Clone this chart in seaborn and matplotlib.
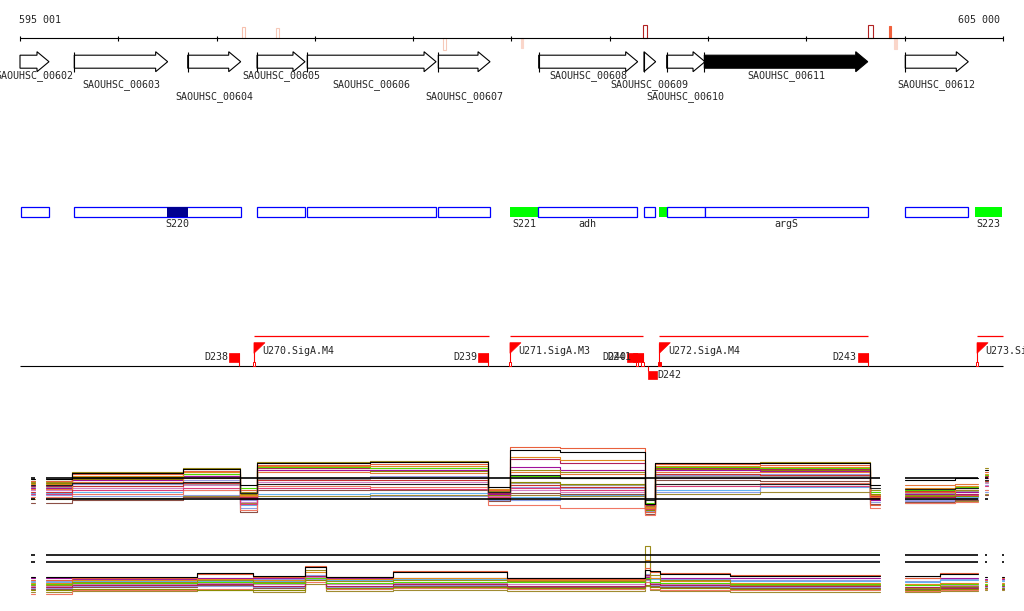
import numpy as np
import pandas as pd
import matplotlib
matplotlib.use('Agg')
import matplotlib.pyplot as plt
from matplotlib.patches import Polygon, Rectangle
import seaborn as sns

sns.set_style('white')
plt.rcParams['font.family'] = ['DejaVu Sans Mono', 'DejaVu Sans']
FS = 7.2

VIEW_START, VIEW_END = 595001, 605000

# genes (top track)
gene_names = ['SAOUHSC_00602', 'SAOUHSC_00603', 'SAOUHSC_00604', 'SAOUHSC_00605',
              'SAOUHSC_00606', 'SAOUHSC_00607', 'SAOUHSC_00608', 'SAOUHSC_00609',
              'SAOUHSC_00610', 'SAOUHSC_00611', 'SAOUHSC_00612']
gene_start = [594990, 595553, 596707, 597412, 597923, 599256, 600277, 601348, 601579, 601962, 604006]
gene_end = [595296, 596503, 597246, 597900, 599233, 599782, 601284, 601467, 601969, 603624, 604647]
gene_row = [0, 1, 2, 0, 1, 2, 0, 1, 2, 0, 1]
selected_gene = 'SAOUHSC_00611'

# small peaks on the scale bar
mark_start = [597262, 597605, 599307, 600094, 601335, 603627, 603837, 603891]
mark_end = [597290, 597632, 599331, 600114, 601382, 603681, 603857, 603925]
mark_strand = ['+', '+', '-', '-', '+', '+', '+', '-']
mark_score = [11, 10, 12, 10, 13, 13, 12, 11]
mark_face = ['white', 'white', 'white', '#fad6ca', 'white', 'white', '#f0603c', '#fad6ca']
mark_edge = ['#f6c0ae', '#f6c9b9', '#f6c9b9', '#fad6ca', '#b22222', '#b22222', '#f0603c', '#fad6ca']

# feature boxes
feat_start = [595008, 595553, 596496, 597415, 597923, 599256, 599985, 600273, 601348, 601498,
              601582, 601966, 604006, 604712]
feat_end = [595293, 597246, 596710, 597897, 599229, 599779, 600273, 601280, 601463, 601582,
            601966, 603624, 604647, 604993]
feat_kind = ['cds', 'cds', 'hit', 'cds', 'cds', 'cds', 'sig', 'cds', 'cds', 'sig',
             'cds', 'cds', 'cds', 'sig']
feat_label = ['', '', 'S220', '', '', '', 'S221', 'adh', '', '', '', 'argS', '', 'S223']

# regulation signals
sig_names = ['D238', 'U270.SigA.M4', 'D239', 'U271.SigA.M3', 'D240', 'D241', 'D242',
             'U272.SigA.M4', 'D243', 'U273.SigA.M4']
sig_pos = [597232, 597381, 599765, 599985, 601277, 601335, 601392, 601504, 603624, 604736]
sig_kind = ['D', 'U', 'D', 'U', 'D', 'D', 'Dr', 'U', 'D', 'U']
sig_to = [None, 599771, None, 601335, None, None, None, 603624, None, 605000]
sig_mark = [None, 'open', None, 'open', 'open', 'open', None, 'solid', None, 'open']

# expression track 1 (segments in bp, levels per condition)
expr1_seg_start = [595270, 595530, 596660, 597240, 597410, 598560, 599760, 599985, 600490,
                   601360, 601460, 602530, 603650, 604000, 604510, 604820]
expr1_seg_end = [595530, 596660, 597240, 597410, 598560, 599760, 599985, 600490, 601360,
                 601460, 602530, 603650, 603750, 604510, 604745, 604850]
expr1_ref = [10.2, 8.1]
expr1 = {
    'c10': [8.7, 8.8, 9.0, 7.5, 8.6, 8.7, 8.1, 8.3, 8.5, 6.8, 9.0, 9.3, 8.0, 8.1, 8.3, 9.0],
    'c11': [8.5, 8.4, 8.5, 7.2, 8.2, 8.4, 8.0, 8.0, 8.2, 6.9, 8.8, 9.6, 7.8, 7.9, 8.1, 8.8],
    'c09': [9.0, 9.6, 10.0, 8.0, 10.2, 10.4, 8.3, 9.3, 9.2, 7.1, 10.5, 10.6, 8.3, 8.0, 8.2, 9.5],
    'c16': [8.1, 8.2, 8.4, 7.7, 8.4, 8.5, 8.2, 8.5, 8.4, 7.4, 8.6, 8.8, 8.1, 7.7, 7.9, 8.6],
    'c13': [7.7, 8.0, 8.3, 6.8, 9.0, 9.0, 7.9, 8.7, 8.6, 6.6, 10.0, 9.9, 7.6, 7.8, 8.0, 8.5],
    'c14': [8.3, 8.6, 9.0, 7.0, 9.4, 9.3, 7.5, 7.5, 7.2, 6.5, 9.6, 9.7, 7.2, 7.7, 7.8, 9.0],
    'c12': [9.0, 9.2, 9.5, 7.8, 9.8, 9.8, 8.4, 9.0, 8.8, 7.2, 10.2, 10.2, 8.2, 8.8, 8.8, 9.7],
    'c19': [8.6, 9.0, 9.2, 7.6, 9.2, 9.1, 8.3, 9.2, 9.0, 7.1, 9.4, 9.4, 8.1, 8.3, 8.5, 9.4],
    'c18': [9.3, 9.4, 9.6, 8.4, 10.1, 10.2, 8.6, 9.7, 9.5, 7.3, 10.4, 10.4, 8.5, 8.7, 8.9, 9.8],
    'c15': [8.8, 9.4, 9.7, 8.2, 10.0, 10.0, 8.5, 9.5, 9.3, 7.0, 10.6, 10.5, 8.4, 8.9, 9.0, 9.9],
    'c08': [9.7, 10.1, 10.4, 8.6, 11.0, 10.9, 8.5, 9.8, 9.6, 7.0, 11.1, 11.0, 8.6, 8.4, 8.4, 10.0],
    'c06': [9.2, 10.0, 10.4, 8.1, 11.0, 11.0, 8.6, 11.3, 11.0, 7.3, 11.0, 10.9, 8.0, 8.6, 8.8, 10.2],
    'c05': [9.4, 10.2, 10.6, 8.3, 11.2, 11.2, 8.7, 12.1, 11.7, 7.5, 11.2, 11.1, 8.2, 8.3, 8.6, 10.4],
    'c20': [9.1, 9.8, 10.2, 8.4, 10.8, 10.7, 8.8, 10.8, 10.6, 7.3, 10.8, 10.8, 8.3, 9.5, 9.6, 10.3],
    'c07': [9.9, 10.3, 10.6, 9.2, 11.3, 11.2, 9.0, 10.4, 10.2, 7.7, 11.3, 11.2, 8.8, 9.0, 9.3, 10.5],
    'c04': [9.6, 10.4, 10.8, 8.5, 11.4, 11.4, 9.1, 12.3, 12.0, 7.2, 11.4, 11.3, 8.5, 9.2, 9.4, 10.6],
    'c03': [9.8, 10.8, 11.2, 8.8, 11.8, 11.9, 8.9, 11.0, 10.8, 7.4, 11.7, 11.8, 9.0, 8.5, 9.0, 11.2],
    'c02': [9.9, 10.6, 10.9, 9.0, 11.5, 11.6, 9.0, 13.3, 13.2, 6.8, 11.6, 11.5, 7.5, 8.8, 9.2, 10.8],
    'c17': [9.5, 9.7, 9.8, 8.7, 9.6, 9.6, 8.8, 10.5, 10.2, 8.0, 9.6, 9.6, 9.2, 9.1, 9.2, 10.0],
    'c01': [10.1, 10.7, 11.1, 9.5, 11.7, 11.8, 9.3, 13.0, 12.8, 7.6, 11.7, 11.7, 9.5, 10.0, 10.2, 11.0],
}

# expression track 2
expr2_seg_start = [595265, 595530, 596800, 597370, 597900, 598115, 598795, 599955, 601358,
                   601410, 601510, 602225, 604003, 604360, 604817, 604990]
expr2_seg_end = [595530, 596800, 597370, 597900, 598115, 598795, 599955, 601358, 601410,
                 601510, 602225, 603750, 604360, 604746, 604837, 605010]
expr2_ref = [10.5, 9.8]
expr2 = {
    'c06': [8.2, 8.1, 8.2, 8.2, 8.3, 8.2, 8.2, 8.2, 8.3, 8.2, 8.2, 8.2, 8.2, 8.2, 8.1, 8.1],
    'c11': [7.9, 8.0, 8.0, 8.1, 8.5, 8.1, 8.1, 8.1, 8.6, 8.1, 8.1, 8.0, 7.9, 8.1, 8.0, 8.0],
    'c10': [7.8, 7.9, 7.9, 7.9, 8.4, 8.0, 8.1, 8.0, 8.5, 8.1, 8.0, 7.9, 7.8, 8.0, 7.9, 7.9],
    'c16': [6.8, 6.9, 7.0, 6.8, 7.6, 6.9, 7.0, 6.9, 7.4, 7.0, 6.9, 6.8, 6.8, 6.9, 7.0, 7.0],
    'c14': [6.6, 7.0, 7.1, 7.0, 7.8, 7.1, 7.2, 7.1, 7.8, 7.1, 7.0, 7.0, 6.9, 7.0, 7.1, 7.1],
    'c13': [7.1, 7.3, 7.5, 7.2, 8.2, 7.2, 7.4, 7.3, 8.1, 7.4, 7.3, 7.2, 7.1, 7.3, 7.2, 7.1],
    'c09': [7.2, 7.4, 7.4, 7.3, 8.1, 7.3, 7.5, 7.4, 8.0, 7.5, 7.4, 7.3, 7.2, 7.4, 7.3, 7.3],
    'c08': [7.0, 7.1, 7.0, 7.0, 8.0, 7.2, 7.3, 7.2, 7.5, 7.3, 7.2, 7.1, 7.0, 7.1, 7.2, 7.2],
    'c12': [7.4, 7.6, 7.7, 7.6, 8.3, 7.6, 7.7, 7.6, 8.4, 7.7, 7.6, 7.5, 7.5, 7.5, 7.5, 7.5],
    'c05': [7.3, 7.5, 7.6, 7.4, 8.4, 7.4, 7.6, 7.4, 8.5, 7.6, 7.5, 7.4, 7.3, 7.2, 7.4, 7.4],
    'c07': [7.6, 7.7, 7.8, 7.7, 8.2, 7.7, 7.8, 7.8, 8.2, 7.8, 7.7, 7.6, 7.5, 7.6, 7.6, 7.5],
    'c04': [7.7, 8.0, 8.1, 8.0, 8.8, 8.1, 8.2, 8.0, 10.0, 8.2, 7.9, 7.7, 7.6, 7.7, 7.8, 7.7],
    'c03': [7.5, 7.8, 8.0, 7.8, 9.0, 7.9, 8.0, 7.9, 11.4, 8.5, 8.0, 7.5, 7.2, 7.4, 7.5, 7.6],
    'c02': [8.0, 8.2, 8.6, 8.3, 9.4, 8.3, 8.9, 8.1, 9.2, 8.8, 8.7, 8.5, 8.2, 8.7, 8.0, 8.2],
    'c01': [8.3, 8.3, 8.7, 8.4, 9.3, 8.3, 8.8, 8.2, 9.0, 8.9, 8.6, 8.4, 8.4, 8.6, 8.3, 8.3],
}

colors = {
    'c01': '#000000', 'c02': '#e8603c', 'c03': '#9c8c1c', 'c04': '#e08a1e', 'c05': '#b0205a',
    'c06': '#a0109a', 'c07': '#50dc00', 'c08': '#8c8c00', 'c09': '#9a9ae0', 'c10': '#64b4f0',
    'c11': '#8ca0e6', 'c12': '#d282c8', 'c13': '#8c5046', 'c14': '#f07864', 'c15': '#c83232',
    'c16': '#a08c32', 'c17': '#222222', 'c18': '#a0a0a0', 'c19': '#dc3c78', 'c20': '#e6783c',
}

# ---- layout (pixel rows of the 1024 x 611 canvas)
W, H = 1024, 611
LEFT_PX, RIGHT_PX = 20, 1003
px = (VIEW_END - VIEW_START) / (RIGHT_PX - LEFT_PX)   # bp per pixel
xlim = (VIEW_START - LEFT_PX * px, VIEW_START + (W - LEFT_PX) * px)
KEY = (VIEW_START + 11 * px, VIEW_START + 15 * px)

fig = plt.figure(figsize=(W / 100, H / 100), dpi=100)
ax = fig.add_axes([0, 0, 1, 1])
ax.set_xlim(*xlim)
ax.set_ylim(H, 0)
ax.axis('off')

# scale bar
SCALE_Y = 38.3
ax.hlines(SCALE_Y, VIEW_START, VIEW_END, color='black', lw=0.8)
ax.vlines(np.arange(595000, VIEW_END + 1, 1000), SCALE_Y - 2.6, SCALE_Y + 2.4, color='black', lw=0.8)
ax.text(VIEW_START - px, 20, f'{VIEW_START:,}'.replace(',', ' '), fontsize=FS, ha='left', va='center')
ax.text(VIEW_END - 3 * px, 20, f'{VIEW_END:,}'.replace(',', ' '), fontsize=FS, ha='right', va='center')
for s, e, st, sc, fc, ec in zip(mark_start, mark_end, mark_strand, mark_score, mark_face, mark_edge):
    y0 = SCALE_Y - sc if st == '+' else SCALE_Y
    ax.add_patch(Rectangle((s, y0), e - s, sc, facecolor=fc, edgecolor=ec, lw=0.8, zorder=1))

# gene arrows
GENE_Y = 61.7
LABEL_Y = [76, 85, 97]
HEAD = 12 * px
for name, s, e, r in zip(gene_names, gene_start, gene_end, gene_row):
    s0 = max(s, VIEW_START)
    fc = 'black' if name == selected_gene else 'white'
    hs = max(s0, e - HEAD)
    if hs > s0:
        pts = [(s0, GENE_Y - 6.5), (hs, GENE_Y - 6.5), (hs, GENE_Y - 10), (e, GENE_Y),
               (hs, GENE_Y + 10), (hs, GENE_Y + 6.5), (s0, GENE_Y + 6.5)]
    else:
        pts = [(s0, GENE_Y - 10), (e, GENE_Y), (s0, GENE_Y + 10)]
    ax.add_patch(Polygon(pts, closed=True, facecolor=fc, edgecolor='black', lw=0.8, zorder=3))
    if s >= VIEW_START:
        ax.vlines(s, GENE_Y - 10, GENE_Y + 10, color='black', lw=0.8, zorder=3)
    ax.text((s + e) / 2, LABEL_Y[r], name, fontsize=FS, ha='center', va='center', zorder=4)

# feature boxes
FEAT_Y, FEAT_H = 207.3, 10
for s, e, k, lab in zip(feat_start, feat_end, feat_kind, feat_label):
    if k == 'cds':
        ax.add_patch(Rectangle((s, FEAT_Y), e - s, FEAT_H, facecolor='white', edgecolor='#0000ff', lw=0.9))
    elif k == 'sig':
        ax.add_patch(Rectangle((s, FEAT_Y), e - s, FEAT_H, facecolor='#00ff00', edgecolor='none'))
    else:
        ax.add_patch(Rectangle((s, FEAT_Y), e - s, FEAT_H, facecolor='#000090', edgecolor='none', zorder=3))
    if lab:
        ax.text((s + e) / 2, FEAT_Y + FEAT_H + 6.5, lab, fontsize=FS, ha='center', va='center')

# regulation track
BASE = 366.3
RED = '#ff0000'
ax.hlines(BASE, VIEW_START, VIEW_END, color='black', lw=0.8, zorder=2)
for name, x, k, to, mk in zip(sig_names, sig_pos, sig_kind, sig_to, sig_mark):
    if k == 'U':
        ax.vlines(x, BASE - 23.6, BASE, color=RED, lw=0.8)
        ax.add_patch(Polygon([(x, BASE - 23.6), (x + 11 * px, BASE - 23.6), (x, BASE - 13)],
                             closed=True, facecolor=RED, edgecolor=RED, lw=0.5))
        ax.hlines(BASE - 30.3, x, to, color=RED, lw=0.9)
        ax.text(x + 8.7 * px, BASE - 15.6, name, fontsize=FS, ha='left', va='center')
    elif k == 'D':
        ax.add_patch(Rectangle((x - 10 * px, BASE - 13), 10 * px, 8.4, facecolor=RED, edgecolor=RED, lw=0.5))
        ax.vlines(x, BASE - 13, BASE, color=RED, lw=0.8)
        ax.text(x - 11 * px, BASE - 8.8, name, fontsize=FS, ha='right', va='center')
    else:
        ax.vlines(x, BASE, BASE + 4.4, color=RED, lw=0.8)
        ax.add_patch(Rectangle((x, BASE + 4.4), 9 * px, 8.6, facecolor=RED, edgecolor=RED, lw=0.5))
        ax.text(x + 9.5 * px, BASE + 8.7, name, fontsize=FS, ha='left', va='center')
    if mk:
        ax.add_patch(Rectangle((x - 1.2 * px, BASE - 4), 2.4 * px, 4,
                               facecolor=RED if mk == 'solid' else 'white', edgecolor=RED, lw=0.7, zorder=3))


def long_table(seg_start, seg_end, levels):
    rows = []
    for name, vals in levels.items():
        block = 0
        for i, (s, e, v) in enumerate(zip(seg_start, seg_end, vals)):
            if i > 0 and s != seg_end[i - 1]:
                block += 1
            rows.append((name, block, s, v))
            rows.append((name, block, e, v))
        rows.append((name, -1, KEY[0], vals[0]))
        rows.append((name, -1, KEY[1], vals[0]))
    return pd.DataFrame(rows, columns=['series', 'block', 'pos', 'level'])


def blocks(seg_start, seg_end):
    out = [list(KEY)]
    for i, (s, e) in enumerate(zip(seg_start, seg_end)):
        if i > 0 and s == seg_end[i - 1]:
            out[-1][1] = e
        else:
            out.append([s, e])
    return out


def expr_track(top_px, height_px, ylim, seg_start, seg_end, levels, refs):
    a = fig.add_axes([0, (H - top_px - height_px) / H, 1, height_px / H])
    a.patch.set_alpha(0)
    df = long_table(seg_start, seg_end, levels)
    sns.lineplot(data=df, x='pos', y='level', hue='series', units='block', estimator=None,
                 sort=False, palette=colors, hue_order=list(levels), legend=False,
                 linewidth=0.8, ax=a)
    for s, e in blocks(seg_start, seg_end):
        a.hlines(refs, s, e, color='black', lw=1.2, zorder=5)
    a.set_xlim(*xlim)
    a.set_ylim(*ylim)
    a.axis('off')


expr_track(440, 80, (6, 14), expr1_seg_start, expr1_seg_end, expr1, expr1_ref)
expr_track(540, 60, (6, 12), expr2_seg_start, expr2_seg_end, expr2, expr2_ref)

fig.savefig('out.png', dpi=100)
